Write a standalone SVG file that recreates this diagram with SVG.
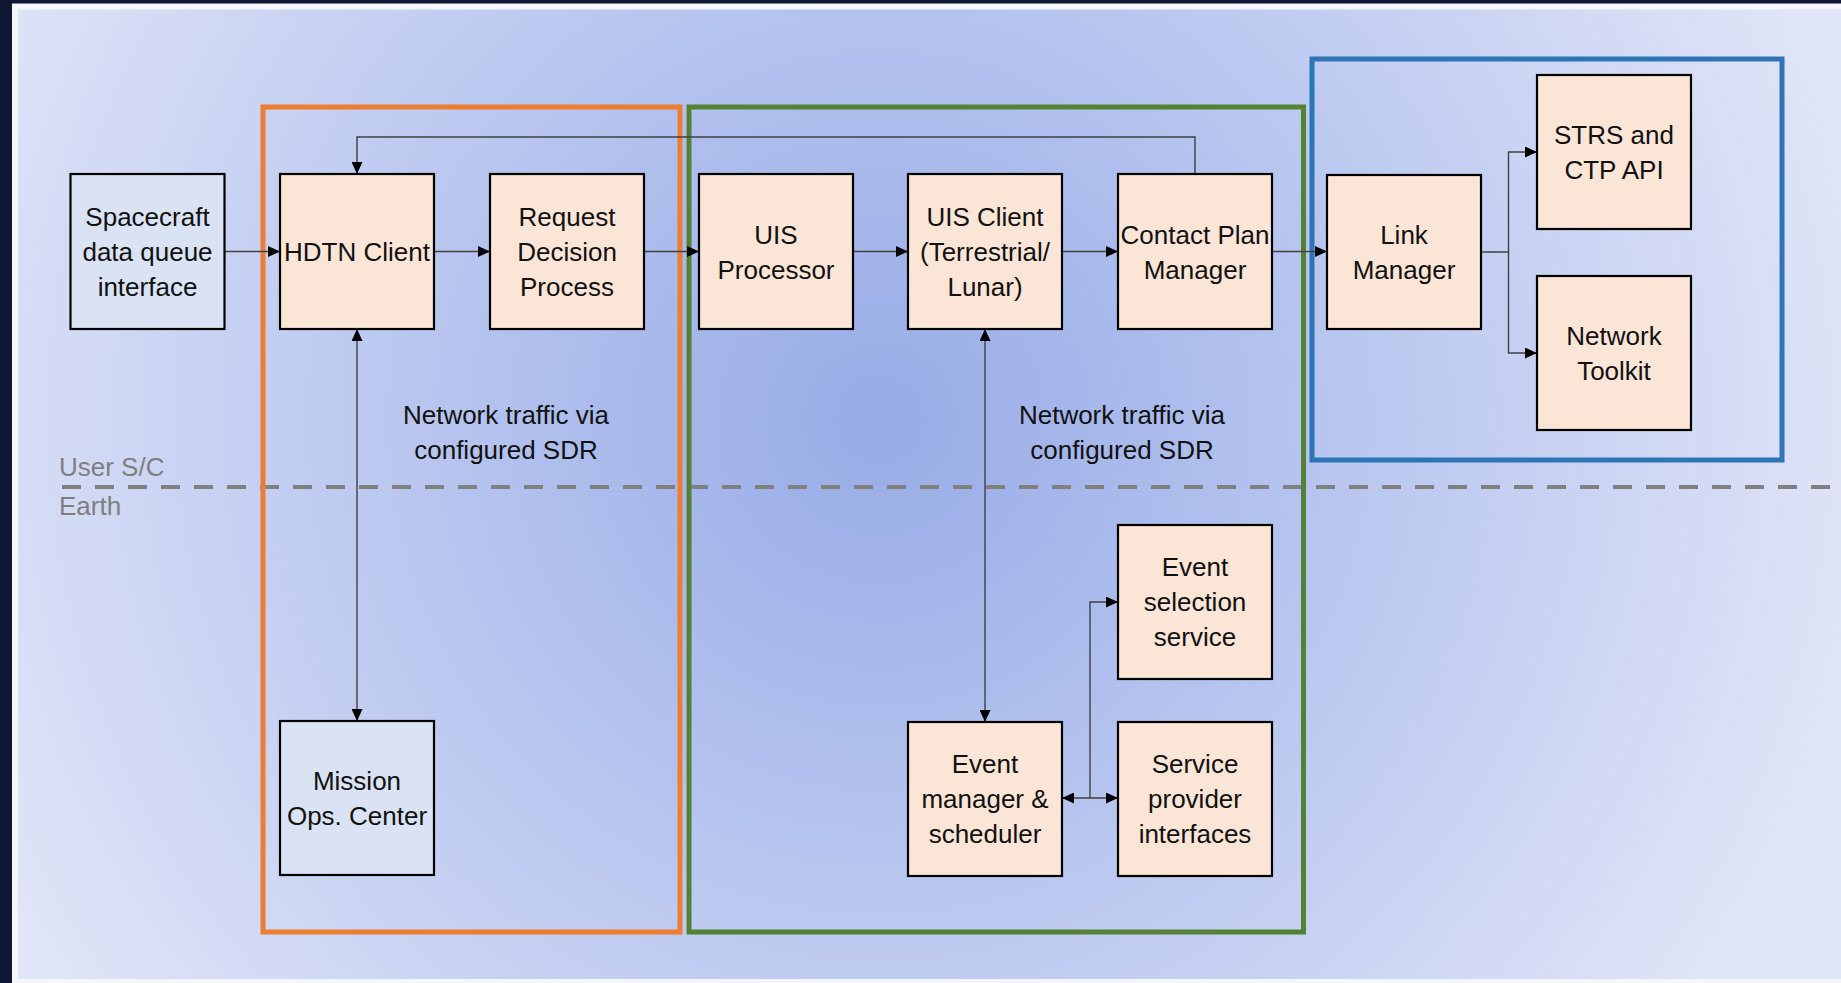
<svg xmlns="http://www.w3.org/2000/svg" width="1841" height="983" viewBox="0 0 1841 983">
<defs>
<radialGradient id="bg" gradientUnits="userSpaceOnUse" cx="880" cy="420" r="1000">
<stop offset="0" stop-color="#97ABE6"/>
<stop offset="0.45" stop-color="#B7C5EF"/>
<stop offset="1" stop-color="#E0E5F7"/>
</radialGradient>
<marker id="arr" markerUnits="userSpaceOnUse" markerWidth="12" markerHeight="11" refX="12" refY="5.5" orient="auto-start-reverse" viewBox="0 0 12 11">
<path d="M0,0 L12,5.5 L0,11 z" fill="#000"/>
</marker>
<style>
.box{stroke:#000;stroke-width:2.2}
.peach{fill:#FBE5D6}
.lblue{fill:#DAE3F3}
.t{font-family:"Liberation Sans",Arial,sans-serif;font-size:26px;fill:#111;text-anchor:middle}
.side{font-family:"Liberation Sans",Arial,sans-serif;font-size:26px;fill:#7F7F7F}
.grp{fill:none;stroke-width:5}
.con{fill:none;stroke:#404040;stroke-width:1.4}
</style>
</defs>
<rect x="0" y="0" width="1841" height="983" fill="#0E1733"/>
<rect x="12" y="3.5" width="1829" height="979.5" fill="#F4F6FB"/>
<rect x="18" y="9.5" width="1823" height="969.5" fill="url(#bg)"/>

<line x1="62" y1="487" x2="1841" y2="487" stroke="#808080" stroke-width="4" stroke-dasharray="19 14"/>
<text class="side" x="59" y="476">User S/C</text>
<text class="side" x="59" y="515">Earth</text>

<g id="groups">
<rect id="orange-group" class="grp" x="263" y="107" width="417" height="825" stroke="#ED7D31"/>
<rect id="green-group" class="grp" x="689" y="107" width="614.5" height="825" stroke="#548235"/>
<rect id="blue-group" class="grp" x="1312" y="59" width="470" height="401" stroke="#2E75B6"/>
</g>

<g id="connectors">
<line class="con" x1="224.5" y1="251.5" x2="280" y2="251.5" marker-end="url(#arr)"/>
<line class="con" x1="434" y1="251.5" x2="490" y2="251.5" marker-end="url(#arr)"/>
<line class="con" x1="644" y1="251.5" x2="699" y2="251.5" marker-end="url(#arr)"/>
<line class="con" x1="853" y1="251.5" x2="908" y2="251.5" marker-end="url(#arr)"/>
<line class="con" x1="1062" y1="251.5" x2="1118" y2="251.5" marker-end="url(#arr)"/>
<line class="con" x1="1272" y1="251.5" x2="1327" y2="251.5" marker-end="url(#arr)"/>
<polyline class="con" points="1195,174 1195,137 357,137 357,174" marker-end="url(#arr)"/>
<polyline class="con" points="1481,252 1508.5,252 1508.5,152 1537,152" marker-end="url(#arr)"/>
<polyline class="con" points="1508.5,252 1508.5,353 1537,353" marker-end="url(#arr)"/>
<line class="con" x1="357" y1="329" x2="357" y2="721" marker-start="url(#arr)" marker-end="url(#arr)"/>
<line class="con" x1="985" y1="329" x2="985" y2="722" marker-start="url(#arr)" marker-end="url(#arr)"/>
<line class="con" x1="1062" y1="798" x2="1118" y2="798" marker-start="url(#arr)" marker-end="url(#arr)"/>
<polyline class="con" points="1090,798 1090,602 1118,602" marker-end="url(#arr)"/>
</g>

<text class="t" x="506" y="424">Network traffic via</text>
<text class="t" x="506" y="459">configured SDR</text>
<text class="t" x="1122" y="424">Network traffic via</text>
<text class="t" x="1122" y="459">configured SDR</text>

<g id="spacecraft"><rect class="box lblue" x="70.5" y="174" width="154" height="155"/>
<text class="t" x="147.5" y="226">Spacecraft</text><text class="t" x="147.5" y="261">data queue</text><text class="t" x="147.5" y="296">interface</text></g>
<g id="hdtn-client"><rect class="box peach" x="280" y="174" width="154" height="155"/>
<text class="t" x="357" y="261">HDTN Client</text></g>
<g id="request-decision"><rect class="box peach" x="490" y="174" width="154" height="155"/>
<text class="t" x="567" y="226">Request</text><text class="t" x="567" y="261">Decision</text><text class="t" x="567" y="296">Process</text></g>
<g id="uis-processor"><rect class="box peach" x="699" y="174" width="154" height="155"/>
<text class="t" x="776" y="243.5">UIS</text><text class="t" x="776" y="278.5">Processor</text></g>
<g id="uis-client"><rect class="box peach" x="908" y="174" width="154" height="155"/>
<text class="t" x="985" y="226">UIS Client</text><text class="t" x="985" y="261">(Terrestrial/</text><text class="t" x="985" y="296">Lunar)</text></g>
<g id="contact-plan"><rect class="box peach" x="1118" y="174" width="154" height="155"/>
<text class="t" x="1195" y="243.5">Contact Plan</text><text class="t" x="1195" y="278.5">Manager</text></g>
<g id="link-manager"><rect class="box peach" x="1327" y="175" width="154" height="154"/>
<text class="t" x="1404" y="243.5">Link</text><text class="t" x="1404" y="278.5">Manager</text></g>
<g id="strs"><rect class="box peach" x="1537" y="75" width="154" height="154"/>
<text class="t" x="1614" y="143.5">STRS and</text><text class="t" x="1614" y="178.5">CTP API</text></g>
<g id="network-toolkit"><rect class="box peach" x="1537" y="276" width="154" height="154"/>
<text class="t" x="1614" y="344.5">Network</text><text class="t" x="1614" y="379.5">Toolkit</text></g>
<g id="mission-ops"><rect class="box lblue" x="280" y="721" width="154" height="154"/>
<text class="t" x="357" y="789.5">Mission</text><text class="t" x="357" y="824.5">Ops. Center</text></g>
<g id="event-selection"><rect class="box peach" x="1118" y="525" width="154" height="154"/>
<text class="t" x="1195" y="576">Event</text><text class="t" x="1195" y="611">selection</text><text class="t" x="1195" y="646">service</text></g>
<g id="event-manager"><rect class="box peach" x="908" y="722" width="154" height="154"/>
<text class="t" x="985" y="773">Event</text><text class="t" x="985" y="808">manager &amp;</text><text class="t" x="985" y="843">scheduler</text></g>
<g id="service-provider"><rect class="box peach" x="1118" y="722" width="154" height="154"/>
<text class="t" x="1195" y="773">Service</text><text class="t" x="1195" y="808">provider</text><text class="t" x="1195" y="843">interfaces</text></g>
</svg>
